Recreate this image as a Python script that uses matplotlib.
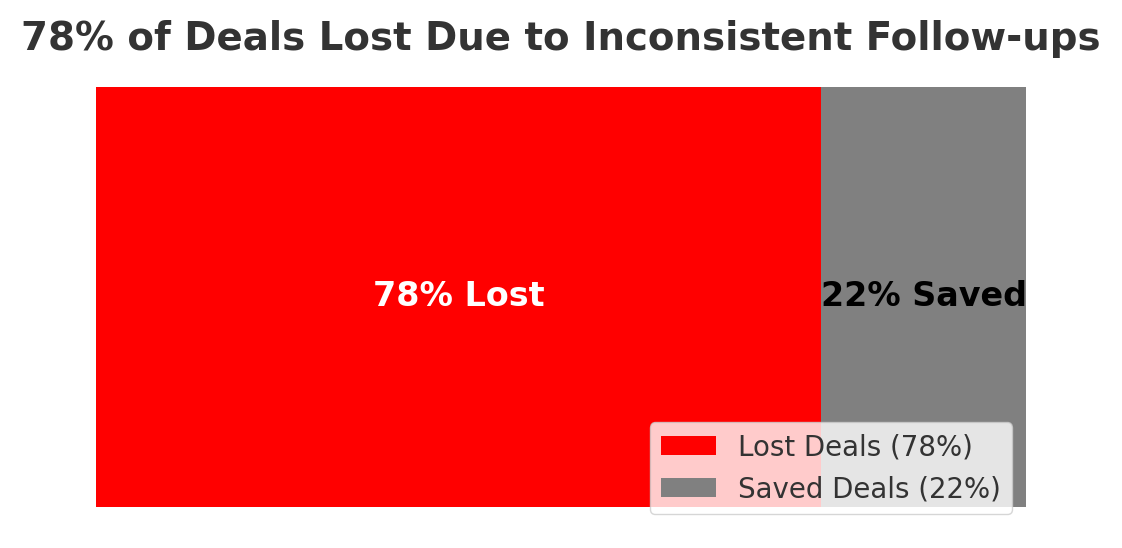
import matplotlib
matplotlib.use('Agg')
import matplotlib.pyplot as plt

# data
categories = ['Lost Deals (78%)', 'Saved Deals (22%)']
values = [78, 22]
bar_labels = ['78% Lost', '22% Saved']
colors = ['red', 'gray']
label_colors = ['white', 'black']

fig = plt.figure(figsize=(11.22, 5.48), dpi=100)
ax = fig.add_axes([96 / 1122, 1 - 528 / 548, 930 / 1122, 462 / 548])

left = 0
for cat, val, lab, col, lcol in zip(categories, values, bar_labels, colors, label_colors):
    ax.barh([0], [val], left=left, height=0.8, color=col, label=cat)
    ax.text(left + val / 2, 0, lab, ha='center', va='center',
            color=lcol, fontsize=24, fontweight='bold')
    left += val

ax.set_xlim(0, sum(values))
ax.set_ylim(-0.44, 0.44)
ax.axis('off')

fig.suptitle('78% of Deals Lost Due to Inconsistent Follow-ups',
             fontsize=27.9, fontweight='bold', color='#333333', y=0.963)

leg = ax.legend(loc='lower right', fontsize=19.9, labelcolor='#333333')

plt.savefig('out.png', dpi=100)
